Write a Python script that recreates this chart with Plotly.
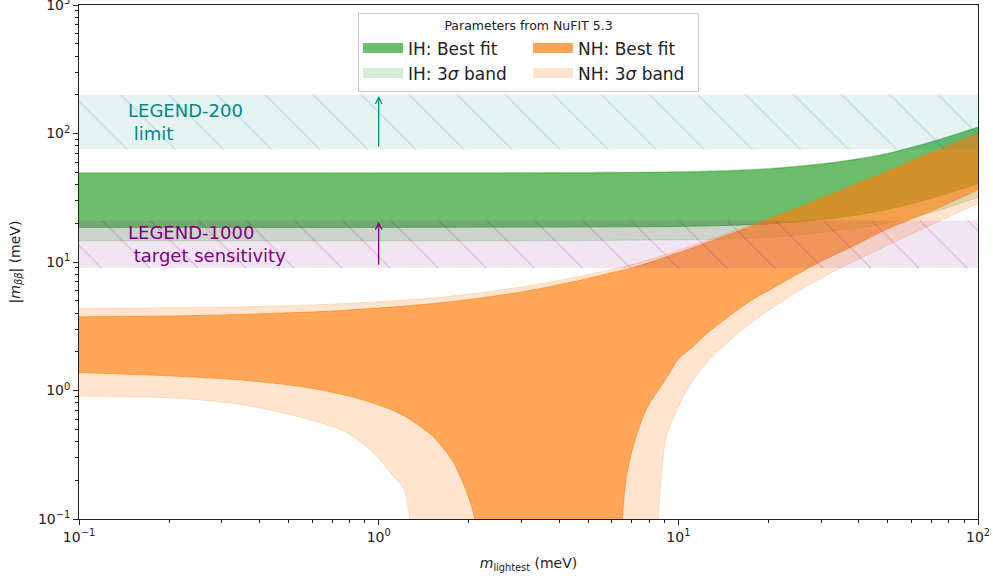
import math
import plotly.graph_objects as go

# Axis limits (meV)
X_RANGE = [0.1, 100.0]
Y_RANGE = [0.1, 1000.0]

# ---- Inverted hierarchy (m_lightest = m3) ----
ih_x = [0.1, 1, 3, 10, 15, 20, 30, 40, 50, 70, 100]
ih_best_hi = [49.0, 49.0, 49.1, 49.9, 51.1, 52.8, 57.6, 63.2, 69.7, 85.8, 111.5]
ih_best_lo = [18.6, 18.6, 18.7, 18.9, 19.3, 19.8, 21.4, 23.3, 25.7, 31.4, 40.8]
ih_3s_hi = [49.8, 49.8, 49.9, 50.7, 51.9, 53.6, 58.4, 64.0, 70.5, 86.8, 112.8]
ih_3s_lo = [14.6, 14.6, 14.6, 14.9, 15.1, 15.5, 17.0, 18.4, 20.1, 24.3, 31.8]

# ---- Normal hierarchy (m_lightest = m1) ----
nh_hi_x = [0.1, 0.2, 0.3, 0.5, 0.7, 1, 1.5, 2, 3, 4, 5, 6, 7, 8, 10, 12, 15,
           20, 30, 40, 50, 70, 100]
nh_best_hi = [3.75, 3.80, 3.87, 4.02, 4.15, 4.38, 4.73, 5.10, 5.85, 6.66, 7.45,
              8.25, 9.0, 9.9, 11.8, 13.7, 16.5, 21.3, 31.0, 40.8, 50.7, 70.5,
              100.4]
nh_3s_hi = [4.36, 4.40, 4.45, 4.57, 4.70, 4.90, 5.25, 5.62, 6.40, 7.2, 8.0,
            8.8, 9.55, 10.4, 12.3, 14.2, 17.1, 21.9, 31.6, 41.5, 51.4, 71.3,
            101.5]

nh_best_lo_x = [0.1, 0.2, 0.36, 0.6, 0.88, 1.18, 1.5, 1.77, 1.97, 2.09, 2.2,
                6.0, 6.5, 6.68, 7.07, 7.83, 9.13, 10, 11.2, 12.5, 14.9, 17.3,
                20, 28.9, 40, 48.3, 70, 100]
nh_best_lo = [1.38, 1.30, 1.20, 1.04, 0.85, 0.66, 0.45, 0.28, 0.16, 0.10, 0.01,
              0.01, 0.10, 0.20, 0.37, 0.72, 1.25, 1.75, 2.2, 2.8, 3.85, 4.95,
              6.0, 9.7, 14.0, 17.5, 25.0, 36.5]

nh_3s_lo_x = [0.1, 0.214, 0.357, 0.595, 0.77, 0.945, 1.13, 1.21, 1.27, 1.32,
              8.3, 8.57, 9.13, 10, 10.4, 12, 15, 20, 30, 50, 70, 100]
nh_3s_lo = [0.905, 0.87, 0.77, 0.59, 0.48, 0.34, 0.21, 0.175, 0.10, 0.01,
            0.01, 0.10, 0.44, 0.74, 0.90, 1.5, 2.5, 4.2, 7.5, 13.5, 19.5, 28.5]

# ---- Experimental sensitivities (meV) ----
legend200_band = [75.0, 200.0]
legend1000_band = [9.0, 21.0]
arrow_x = 1.0

GREEN = (44, 160, 44)
ORANGE = (255, 127, 14)
TEAL = (0, 139, 139)
PURPLE = (128, 0, 128)
BEST_ALPHA = 0.62
BAND_ALPHA = 0.2


def rgba(c, a):
    return "rgba(%d,%d,%d,%.3f)" % (c[0], c[1], c[2], a)


def add_band(fig, x_lo, y_lo, x_hi, y_hi, color, alpha):
    """Filled region between two smooth boundaries (lower drawn first)."""
    edge = dict(color=rgba(color, alpha), width=1, shape="spline", smoothing=0.8)
    fig.add_trace(go.Scatter(x=x_lo, y=y_lo, mode="lines", line=edge,
                             showlegend=False, hoverinfo="skip"))
    fig.add_trace(go.Scatter(x=x_hi, y=y_hi, mode="lines", line=edge,
                             fill="tonexty", fillcolor=rgba(color, alpha),
                             showlegend=False, hoverinfo="skip"))


def legend_patch(fig, name, color, alpha, group, rank):
    """Legend-only entry drawn as a wide rectangular patch."""
    fig.add_trace(go.Scatter(x=[None], y=[None], mode="lines",
                             line=dict(color=rgba(color, alpha), width=13),
                             name=name, legendgroup=group, legendrank=rank,
                             hoverinfo="skip"))


def hspan(lims, color):
    x0, x1 = X_RANGE
    return go.Scatter(
        x=[x0, x1, x1, x0, x0],
        y=[lims[0], lims[0], lims[1], lims[1], lims[0]],
        mode="lines",
        fill="toself",
        fillcolor=rgba(color, 0.1),
        fillpattern=dict(shape="\\", size=34, solidity=0.03,
                         fgcolor=rgba(color, 0.22),
                         bgcolor=rgba(color, 0.1), fillmode="replace"),
        line=dict(width=0),
        showlegend=False,
        hoverinfo="skip",
    )


fig = go.Figure()
add_band(fig, ih_x, ih_3s_lo, ih_x, ih_3s_hi, GREEN, BAND_ALPHA)
add_band(fig, ih_x, ih_best_lo, ih_x, ih_best_hi, GREEN, BEST_ALPHA)
add_band(fig, nh_3s_lo_x, nh_3s_lo, nh_hi_x, nh_3s_hi, ORANGE, BAND_ALPHA)
add_band(fig, nh_best_lo_x, nh_best_lo, nh_hi_x, nh_best_hi, ORANGE, BEST_ALPHA)
fig.add_trace(hspan(legend200_band, TEAL))
fig.add_trace(hspan(legend1000_band, PURPLE))

legend_patch(fig, "IH: Best fit", GREEN, 0.7, "IH", 1)
legend_patch(fig, "IH: 3<i>σ</i> band", GREEN, 0.2, "IH", 2)
legend_patch(fig, "NH: Best fit", ORANGE, 0.7, "NH", 3)
legend_patch(fig, "NH: 3<i>σ</i> band", ORANGE, 0.2, "NH", 4)

FONT = "DejaVu Sans"

# Band labels
fig.add_annotation(x=math.log10(0.143),
                   y=math.log10(math.sqrt(legend200_band[0] * legend200_band[1])),
                   text="LEGEND-200<br>\u00a0limit", showarrow=False,
                   xanchor="left", yanchor="middle", align="left",
                   font=dict(family=FONT, size=18, color=rgba(TEAL, 1)))
fig.add_annotation(x=math.log10(0.143),
                   y=math.log10(math.sqrt(legend1000_band[0] * legend1000_band[1])),
                   text="LEGEND-1000<br>\u00a0target sensitivity", showarrow=False,
                   xanchor="left", yanchor="middle", align="left",
                   font=dict(family=FONT, size=18, color=rgba(PURPLE, 1)))

# Upward arrows across each band
for lims, col in [(legend200_band, TEAL), (legend1000_band, PURPLE)]:
    fig.add_annotation(x=math.log10(arrow_x), y=math.log10(lims[1] * 0.98),
                       ax=math.log10(arrow_x), ay=math.log10(lims[0] * 1.03),
                       xref="x", yref="y", axref="x", ayref="y", text="",
                       showarrow=True, arrowhead=5, arrowsize=1.0,
                       arrowwidth=1.3, arrowcolor=rgba(col, 1), standoff=0)

major_x = [0.1, 1, 10, 100]
major_y = [0.1, 1, 10, 100, 1000]
major_x_text = ["10<sup>−1</sup>", "10<sup>0</sup>", "10<sup>1</sup>", "10<sup>2</sup>"]
major_y_text = ["10<sup>−1</sup>", "10<sup>0</sup>", "10<sup>1</sup>", "10<sup>2</sup>",
                "10<sup>3</sup>"]
minor_x = [m * 10 ** e for e in range(-1, 2) for m in range(2, 10)]
minor_y = [m * 10 ** e for e in range(-1, 3) for m in range(2, 10)]

axis_common = dict(
    type="log", showgrid=False, zeroline=False,
    showline=True, linecolor="#222", linewidth=1, mirror=True,
    ticks="outside", ticklen=5, tickwidth=1, tickcolor="#222",
    tickfont=dict(family=FONT, size=14, color="#222"),
    ticklabeloverflow="allow", automargin=False,
)

fig.update_xaxes(
    range=[math.log10(X_RANGE[0]), math.log10(X_RANGE[1])],
    tickvals=major_x, ticktext=major_x_text,
    minor=dict(tickvals=minor_x, ticks="outside", ticklen=3, tickcolor="#222"),
    title=dict(text="<i>m</i><sub>lightest</sub> (meV)",
               font=dict(family=FONT, size=14, color="#222"), standoff=14),
    **axis_common,
)
fig.update_yaxes(
    range=[math.log10(Y_RANGE[0]), math.log10(Y_RANGE[1])],
    tickvals=major_y, ticktext=major_y_text,
    minor=dict(tickvals=minor_y, ticks="outside", ticklen=3, tickcolor="#222"),
    title=dict(text="|<i>m</i><sub><i>ββ</i></sub>| (meV)",
               font=dict(family=FONT, size=14, color="#222"), standoff=14),
    **axis_common,
)

fig.update_layout(
    width=993, height=578,
    margin=dict(l=79, r=15, t=5, b=59, autoexpand=False),
    plot_bgcolor="white", paper_bgcolor="white",
    font=dict(family=FONT, color="#222"),
    legend=dict(
        orientation="h", traceorder="grouped",
        x=0.5, xanchor="center", y=0.984, yanchor="top",
        bgcolor="rgba(255,255,255,0.85)", bordercolor="#cccccc", borderwidth=1,
        font=dict(family=FONT, size=17, color="#222"),
        title=dict(text="Parameters from NuFIT 5.3", side="top center",
                   font=dict(family=FONT, size=12.5, color="#222")),
        itemwidth=40, entrywidth=115, tracegroupgap=10,
    ),
)

fig.write_html("out.html")
